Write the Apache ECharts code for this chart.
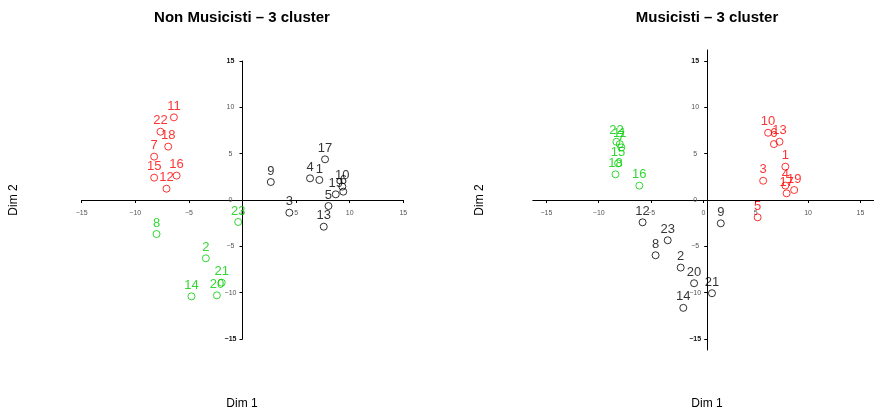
<!DOCTYPE html>
<html><head><meta charset="utf-8">
<script src="https://cdn.jsdelivr.net/npm/echarts@6/dist/echarts.min.js"></script>
<style>html,body{margin:0;padding:0;background:#fff}#c{width:874px;height:413px}</style>
</head><body><div id="c"></div>
<script>
// ---- data ----
const ids = [1,2,3,4,5,6,7,8,9,10,11,12,13,14,15,16,17,18,19,20,21,22,23];

// Non Musicisti (left panel)
const nmDim1 = [7.17,-3.42,4.37,6.30,8.02,9.40,-8.24,-8.02,2.64,9.31,-6.40,-7.09,7.58,-4.76,-8.24,-6.15,7.70,-6.93,8.70,-2.39,-1.94,-7.65,-0.40];
const nmDim2 = [2.16,-6.29,-1.37,2.34,-0.65,0.90,4.68,-3.67,1.94,1.45,8.92,1.22,-2.88,-10.40,2.41,2.63,4.39,5.76,0.61,-10.29,-8.92,7.37,-2.37];
const nmCluster = [3,2,3,3,3,3,1,2,3,3,1,1,3,2,1,1,3,1,3,2,2,1,2];

// Musicisti (right panel)
const muDim1 = [7.83,-2.17,5.71,7.83,5.18,6.74,-7.84,-4.57,1.66,6.18,-7.99,-5.81,7.27,-1.92,-8.15,-6.12,7.95,-8.40,8.67,-0.89,0.82,-8.31,-3.41];
const muDim2 = [3.60,-7.30,2.08,1.56,-1.87,6.04,5.68,-5.97,-2.52,7.26,6.04,-2.41,6.29,-11.65,3.96,1.55,0.72,2.77,1.08,-8.99,-10.07,6.29,-4.35];
const muCluster = [1,3,1,1,1,1,2,3,3,1,2,3,1,3,2,2,1,2,1,3,3,2,3];

const tickValues = [-15,-10,-5,0,5,10,15];
const titles = ['Non Musicisti \u2013 3 cluster', 'Musicisti \u2013 3 cluster'];
const axisNames = ['Dim 1', 'Dim 2'];

// ---- styling / layout ----
const clusterColors = {1:'#FF0000', 2:'#00CD00', 3:'#000000'};
const FONT = '"Liberation Sans", Arial, Helvetica, sans-serif';
const grids = [
  {left: 81.7, width: 321.6, top: 61, height: 278, xmin: -15, xmax: 15, ymin: -15, ymax: 15},
  {left: 532.8, width: 348.8, top: 50, height: 300, xmin: -16.3, xmax: 16.3, ymin: -16.2, ymax: 16.2}
];

function seriesFor(dim1, dim2, cl, gridIdx) {
  const out = [];
  [1,2,3].forEach(k => {
    const data = [];
    ids.forEach((id, i) => { if (cl[i] === k) data.push([dim1[i], dim2[i], id]); });
    out.push({
      type: 'scatter', xAxisIndex: gridIdx, yAxisIndex: gridIdx,
      symbol: 'circle', symbolSize: 7,
      itemStyle: {color: 'rgba(0,0,0,0)', borderColor: clusterColors[k], borderWidth: 1},
      label: {show: true, position: 'inside', offset: [0, -11],
        formatter: p => String(p.value[2]),
        color: clusterColors[k], fontSize: 13, fontFamily: FONT},
      emphasis: {disabled: true},
      silent: true,
      data: data
    });
  });
  return out;
}

function fmt(v) {
  const s = (v < 0 ? '\u2212' : '') + Math.abs(v);
  return Math.abs(v) === 15 ? '{b|' + s + '}' : s;
}

function xAxisFor(gi) {
  const g = grids[gi];
  const off = -g.height * (0 - g.ymin) / (g.ymax - g.ymin);
  return {
    gridIndex: gi, type: 'value', min: g.xmin, max: g.xmax, position: 'bottom', offset: off,
    axisLine: {onZero: false, lineStyle: {color: '#000', width: 1}},
    axisTick: {length: 3, lineStyle: {color: '#000'}, customValues: tickValues},
    axisLabel: {customValues: tickValues, fontSize: 7, color: '#555', fontFamily: FONT,
      margin: 13, verticalAlign: 'middle', formatter: v => (v < 0 ? '\u2212' : '') + Math.abs(v)},
    splitLine: {show: false}
  };
}
function yAxisFor(gi) {
  const g = grids[gi];
  const off = -g.width * (0 - g.xmin) / (g.xmax - g.xmin);
  return {
    gridIndex: gi, type: 'value', min: g.ymin, max: g.ymax, position: 'left', offset: off,
    axisLine: {onZero: false, lineStyle: {color: '#000', width: 1}},
    axisTick: {length: 3, lineStyle: {color: '#000'}, customValues: tickValues},
    axisLabel: {customValues: tickValues, fontSize: 7, color: '#555', fontFamily: FONT,
      margin: 12, align: 'center', formatter: fmt,
      rich: {b: {fontSize: 7, fontWeight: 'bold', color: '#111', fontFamily: FONT}}},
    splitLine: {show: false}
  };
}

const chart = echarts.init(document.getElementById('c'), null, {renderer: 'canvas'});
chart.setOption({
  animation: false,
  backgroundColor: '#fff',
  grid: grids.map(g => ({left: g.left, width: g.width, top: g.top, height: g.height})),
  xAxis: [xAxisFor(0), xAxisFor(1)],
  yAxis: [yAxisFor(0), yAxisFor(1)],
  series: [].concat(seriesFor(nmDim1, nmDim2, nmCluster, 0), seriesFor(muDim1, muDim2, muCluster, 1)),
  graphic: [
    {type: 'text', x: 242, y: 18, style: {text: titles[0], fontSize: 15, fontWeight: 'bold', fontFamily: FONT, fill: '#000', align: 'center', verticalAlign: 'middle'}},
    {type: 'text', x: 707, y: 18, style: {text: titles[1], fontSize: 15, fontWeight: 'bold', fontFamily: FONT, fill: '#000', align: 'center', verticalAlign: 'middle'}},
    {type: 'text', x: 242, y: 404, style: {text: axisNames[0], fontSize: 12, fontFamily: FONT, fill: '#000', align: 'center', verticalAlign: 'middle'}},
    {type: 'text', x: 707, y: 404, style: {text: axisNames[0], fontSize: 12, fontFamily: FONT, fill: '#000', align: 'center', verticalAlign: 'middle'}},
    {type: 'text', x: 14, y: 200, rotation: Math.PI / 2, style: {text: axisNames[1], fontSize: 12, fontFamily: FONT, fill: '#000', align: 'center', verticalAlign: 'middle'}},
    {type: 'text', x: 480, y: 200, rotation: Math.PI / 2, style: {text: axisNames[1], fontSize: 12, fontFamily: FONT, fill: '#000', align: 'center', verticalAlign: 'middle'}}
  ]
});
</script>
</body></html>
